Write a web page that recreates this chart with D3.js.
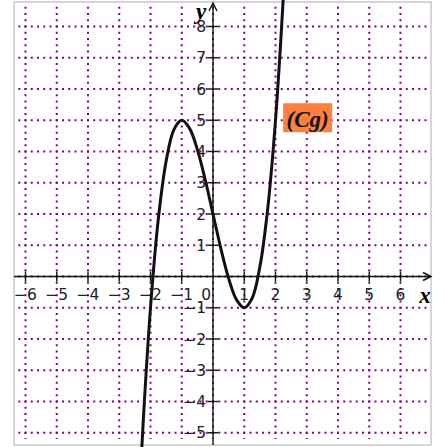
<!DOCTYPE html>
<html>
<head>
<meta charset="utf-8">
<script src="https://cdn.jsdelivr.net/npm/d3@7"></script>
<style>
  body { margin: 0; background: #fff; }
  .tick-label { font-family: "DejaVu Sans", sans-serif; font-size: 15.5px; fill: #222; }
  .math { font-family: "Liberation Serif", "DejaVu Serif", serif; font-style: italic; font-weight: bold; }
</style>
</head>
<body>
<div id="chart"></div>
<script>
// ticks
const xTicks = [-6, -5, -4, -3, -2, -1, 1, 2, 3, 4, 5, 6];
const yTicks = [-5, -4, -3, -2, -1, 1, 2, 3, 4, 5, 6, 7, 8];

// points (Cg)
const curveX = [-2.3, -2.2, -2, -1.75, -1.5, -1.25, -1, -0.75, -0.5, -0.25, 0, 0.25, 0.5, 0.75, 1, 1.25, 1.5, 1.75, 2, 2.2, 2.3];
const curveY = [-5.9, -4.07, -1, 1.84, 3.69, 4.7, 5, 4.74, 4.06, 3.1, 2, 0.9, -0.06, -0.74, -1, -0.7, 0.31, 2.16, 5, 8.07, 9.9];

const curveName = "(Cg)";

const width = 446, height = 447;
const unit = 31.25;

const x = d3.scaleLinear().domain([0, 1]).range([213, 213 + unit]);
const y = d3.scaleLinear().domain([0, 1]).range([276.5, 276.5 - unit]);

const svg = d3.select("#chart").append("svg")
    .attr("width", width)
    .attr("height", height);

const frame = { left: 14, top: 2, right: 431, bottom: 445 };

// grid, dots land on every intersection
const gridX = [-6.2, 6.85], gridY = [-5.2, 8.65];
const grid = svg.append("g");
const dash = "2," + (unit / 5 - 2);

grid.selectAll("line.v")
    .data(d3.range(-6, 7))
    .enter().append("line")
    .attr("x1", d => x(d)).attr("x2", d => x(d))
    .attr("y1", y(9) - 1).attr("y2", y(gridY[0]))
    .attr("stroke", "#800080")
    .attr("stroke-width", 2)
    .attr("stroke-dasharray", dash);

grid.selectAll("line.h")
    .data(d3.range(-5, 9))
    .enter().append("line")
    .attr("y1", d => y(d)).attr("y2", d => y(d))
    .attr("x1", x(-7) - 1).attr("x2", x(gridX[1]))
    .attr("stroke", "#800080")
    .attr("stroke-width", 2)
    .attr("stroke-dasharray", dash);

// cut the grid where it starts
svg.append("rect")
    .attr("x", 0).attr("y", 0)
    .attr("width", x(gridX[0]) - 1).attr("height", height)
    .attr("fill", "#fff");
svg.append("rect")
    .attr("x", 0).attr("y", 0)
    .attr("width", width).attr("height", y(gridY[1]) - 1)
    .attr("fill", "#fff");

// frame
svg.append("rect")
    .attr("x", frame.left).attr("y", frame.top)
    .attr("width", frame.right - frame.left)
    .attr("height", frame.bottom - frame.top)
    .attr("fill", "none")
    .attr("stroke", "#c8c8c8")
    .attr("stroke-width", 1.5);

// axes
const axes = svg.append("g").attr("stroke", "#111").attr("stroke-width", 1.4).attr("fill", "none");
axes.append("line")
    .attr("x1", frame.left).attr("x2", frame.right)
    .attr("y1", y(0)).attr("y2", y(0));
axes.append("path")
    .attr("d", "M" + (frame.right - 8) + "," + (y(0) - 4) + " L" + frame.right + "," + y(0) + " L" + (frame.right - 8) + "," + (y(0) + 4));
axes.append("line")
    .attr("x1", x(0)).attr("x2", x(0))
    .attr("y1", frame.bottom).attr("y2", frame.top + 1);
axes.append("path")
    .attr("d", "M" + (x(0) - 4) + "," + (frame.top + 9) + " L" + x(0) + "," + (frame.top + 1) + " L" + (x(0) + 4) + "," + (frame.top + 9));

axes.selectAll("line.xt")
    .data(xTicks)
    .enter().append("line")
    .attr("x1", d => x(d)).attr("x2", d => x(d))
    .attr("y1", y(0) - 5).attr("y2", y(0) + 5);
axes.selectAll("line.yt")
    .data(yTicks)
    .enter().append("line")
    .attr("y1", d => y(d)).attr("y2", d => y(d))
    .attr("x1", x(0) - 5).attr("x2", x(0) + 5);

// tick labels
const fmt = d => (d < 0 ? "\u2212" : "") + Math.abs(d);
svg.selectAll("text.xl")
    .data(xTicks)
    .enter().append("text")
    .attr("class", "tick-label")
    .attr("x", d => x(d))
    .attr("y", y(0) + 23)
    .attr("text-anchor", "middle")
    .text(fmt);
svg.selectAll("text.yl")
    .data(yTicks)
    .enter().append("text")
    .attr("class", "tick-label")
    .attr("x", x(0) - 7)
    .attr("y", d => y(d))
    .attr("dy", "0.36em")
    .attr("text-anchor", "end")
    .text(fmt);
svg.append("text")
    .attr("class", "tick-label")
    .attr("x", x(0) - 2)
    .attr("y", y(0) + 23)
    .attr("text-anchor", "end")
    .text("0");

// axis names
svg.append("text")
    .attr("class", "math")
    .attr("x", 425).attr("y", y(0) + 26)
    .attr("text-anchor", "middle")
    .style("font-size", "23px")
    .text("x");
svg.append("text")
    .attr("class", "math")
    .attr("x", x(0) - 12).attr("y", 19)
    .attr("text-anchor", "middle")
    .style("font-size", "23px")
    .text("y");

// curve
const line = d3.line()
    .x(d => x(d[0]))
    .y(d => y(d[1]))
    .curve(d3.curveCatmullRom);

svg.append("path")
    .datum(d3.zip(curveX, curveY))
    .attr("d", line)
    .attr("fill", "none")
    .attr("stroke", "#111")
    .attr("stroke-width", 3);

// curve label
const lab = svg.append("g").attr("transform", "translate(" + x(3.03) + "," + y(5) + ")");
lab.append("rect")
    .attr("x", -24.5).attr("y", -17)
    .attr("width", 49).attr("height", 29)
    .attr("fill", "#ff7f3f");
lab.append("text")
    .attr("class", "math")
    .attr("text-anchor", "middle")
    .attr("y", 7)
    .style("font-size", "23px")
    .attr("fill", "#111")
    .text(curveName);
</script>
</body>
</html>
